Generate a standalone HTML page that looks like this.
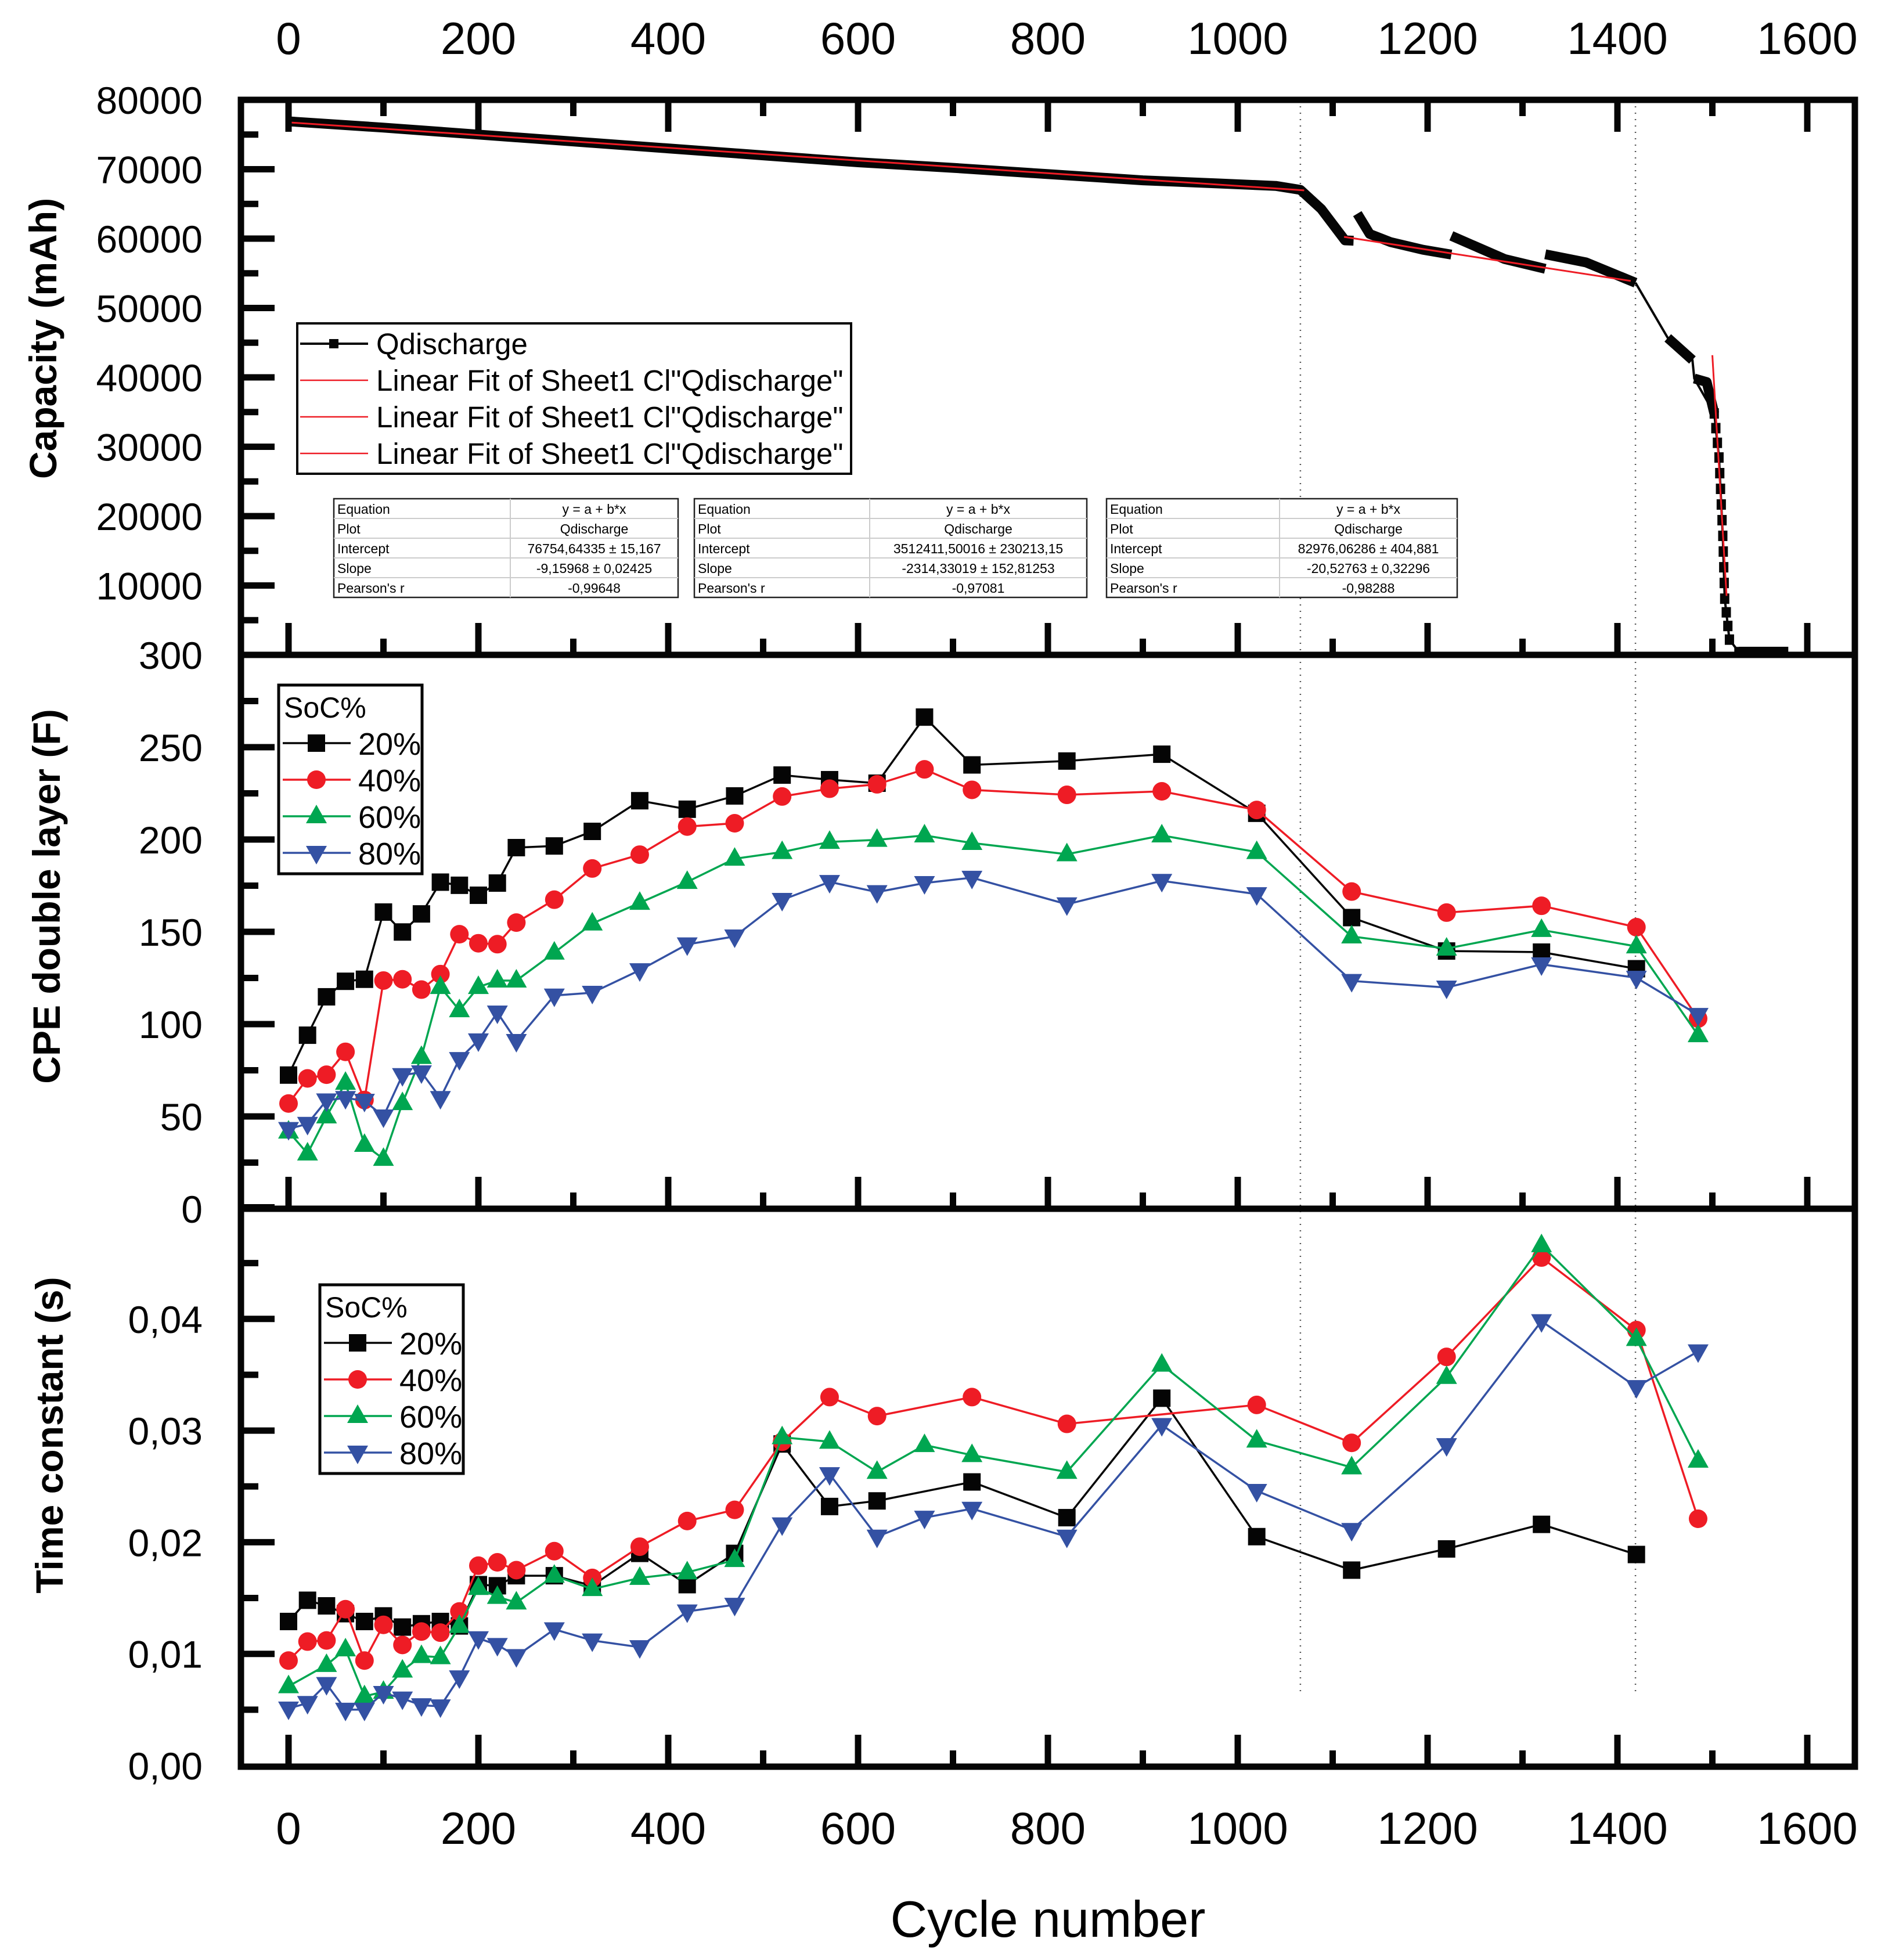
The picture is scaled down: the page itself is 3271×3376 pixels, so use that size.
<!DOCTYPE html>
<html><head><meta charset="utf-8"><style>
html,body{margin:0;padding:0;background:#fff}
svg{display:block}
text{font-family:"Liberation Sans",Arial,sans-serif}
</style></head><body>
<svg id="chart" width="3271" height="3376" viewBox="0 0 3271 3376" xmlns="http://www.w3.org/2000/svg">
<rect x="0" y="0" width="3271" height="3376" fill="#fff"/>
<g id="g"></g>
</svg>
<script>
// ---- data ----
const cycles = [0,20,40,60,80,100,120,140,160,180,200,220,240,280,320,370,420,470,520,570,620,670,720,820,920,1020,1120,1220,1320,1420,1485];
const cpe20 = [72.4,94,114.8,123.2,124.3,160.7,149.9,159.7,176.9,175.2,169.8,176.4,195.6,196.5,204.4,221,216.4,223.6,234.9,232.4,230.5,266.3,240.4,242.5,246.2,214.2,157.7,139.6,139,130,null];
const cpe40 = [57,70.6,72.6,85,58.9,123.6,124.3,118.7,127.1,148.7,143.8,143.3,155,167.4,184.3,191.8,207,208.8,223.3,227.5,229.9,238,226.9,224.2,226.1,216,171.8,160.4,164.1,152.5,103];
const cpe60 = [41.8,29.9,50,68.2,34.6,27,57.2,82.2,120.1,107.5,120.1,123.6,123.6,138.7,154.5,165.7,177,189.6,193.2,198.7,199.8,202.2,198.1,192,202.2,193.2,147.5,140.9,151,142.1,94];
const cpe80 = [43.2,46,58.7,60,58.5,50,72.4,73.9,60,81.1,91.2,106.3,90.9,115.5,117,129.2,143.2,147.5,167.3,177,171.5,176.4,179.3,164.9,177.6,170.4,123.4,119.8,132.4,125.1,105];
const tau20 = [0.0129,0.0148,0.0143,0.0136,0.0129,0.0134,0.0124,0.0127,0.0129,0.0125,0.0162,0.0161,0.0170,0.0170,0.0161,0.0190,0.0162,0.0190,0.0288,0.0232,0.0237,null,0.0254,0.0222,0.0329,0.0205,0.0175,0.0194,0.0216,0.0189,null];
const tau40 = [0.0094,0.0111,0.0112,0.0140,0.0094,0.0126,0.0108,0.0120,0.0119,0.0138,0.0179,0.0182,0.0175,0.0192,0.0168,0.0196,0.0219,0.0229,0.0290,0.0330,0.0313,null,0.0330,0.0306,null,0.0323,0.0289,0.0366,0.0455,0.0390,0.0221];
const tau60 = [0.0071,null,0.0090,0.0104,0.0062,0.0066,0.0085,0.0098,0.0097,0.0125,0.0159,0.0151,0.0146,0.0170,0.0158,0.0168,0.0173,0.0184,0.0294,0.0290,0.0263,0.0287,0.0278,0.0263,0.0359,0.0291,0.0267,0.0348,0.0466,0.0382,0.0273];
const tau80 = [0.0051,0.0056,0.0073,0.0050,0.0050,0.0065,0.0060,0.0054,0.0053,0.0079,0.0114,0.0108,0.0098,0.0122,0.0112,0.0106,0.0138,0.0144,0.0216,0.0261,0.0205,0.0222,0.0230,0.0205,0.0305,0.0246,0.0211,0.0287,0.0398,0.0339,0.0371];
const qSeg1c = [0,100,200,300,400,500,600,700,800,900,980,1040,1066,1088,1113,1122];
const qSeg1v = [76900,76000,75000,74000,73000,72000,71000,70200,69300,68400,67950,67600,67030,64270,59750,59700];
const qSeg2c = [1126,1139,1161,1195,1225];
const qSeg2v = [63600,60670,59500,58400,57700];
const qSeg3c = [1225,1281,1324];
const qSeg3v = [60400,57060,55650];
const qSeg4c = [1324,1367,1419];
const qSeg4v = [57740,56570,53640];
const qSeg5c = [1453,1479];
const qSeg5v = [45690,42500];
const qSeg6c = [1481,1494,1502];
const qSeg6v = [39830,39330,34800];
const qTailc = [1419,1453,1479,1481,1502,1507,1511,1513,1518,1528,1580];
const qTailv = [53640,45690,42500,39830,34800,28450,17160,8100,2200,400,0];
const fit1c = [0,1070]; const fitA = 76754.64335, fitB = -9.15968;
const fit2c = [1112,1414]; const fit2v = [60250,53900];
const fit3c = [1500,1515]; const fit3v = [43200,8500];
const xTicks = [0,200,400,600,800,1000,1200,1400,1600];
const capTicks = [10000,20000,30000,40000,50000,60000,70000,80000];
const cpeTicks = [0,50,100,150,200,250];
const tauTicks = [0,0.01,0.02,0.03,0.04];
const tauTickLabels = ["0,00","0,01","0,02","0,03","0,04"];

const L=415,R=3195,T1=172,B1=1128,B2=2082,B3=3043;
const X = c => 497 + c*1.635;
const Ycap = v => 1128 - v*0.01195;
const Ycpe = v => 2082 - v*3.18;
const Ytau = v => 3041 - v*19230;
const NS="http://www.w3.org/2000/svg";
const G=document.getElementById('g');
function el(tag,attrs,parent){const e=document.createElementNS(NS,tag);for(const k in attrs)e.setAttribute(k,attrs[k]);(parent||G).appendChild(e);return e;}
function txt(s,attrs,parent){const e=el('text',attrs,parent);e.textContent=s;return e;}

[1066,1419].forEach(c=>{const l=el('line',{x1:X(c),x2:X(c),y1:T1,y2:2915,stroke:'#555','stroke-width':2.5,'stroke-dasharray':'2 9'});

});

const topPanel=el('g',{});


function polyline(cs,vs,yf,attrs,parent){let d='';let pen=false;cs.forEach((c,i)=>{const v=vs[i];if(v==null){return;}d+=(pen?'L':'M')+X(c).toFixed(1)+' '+yf(v).toFixed(1)+' ';pen=true;});return el('path',Object.assign({d:d,fill:'none'},attrs),parent);}
{const p2=polyline(qTailc,qTailv,Ycap,{stroke:'#050505','stroke-width':4},topPanel);

}
[[qSeg1c,qSeg1v],[qSeg2c,qSeg2v],[qSeg3c,qSeg3v],[qSeg4c,qSeg4v],[qSeg5c,qSeg5v],[qSeg6c,qSeg6v]].forEach(s=>{const p=polyline(s[0],s[1],Ycap,{stroke:'#050505','stroke-width':17,'stroke-linejoin':'round'},topPanel);

});
for(let i=4;i<qTailc.length-1;i++){const c0=qTailc[i],c1=qTailc[i+1],v0=qTailv[i],v1=qTailv[i+1];const n=Math.max(1,Math.round(Math.abs(Ycap(v1)-Ycap(v0))/28));for(let k=0;k<n;k++){const t=k/n;const c=c0+(c1-c0)*t,v=v0+(v1-v0)*t;const r=el('rect',{x:X(c)-8,y:Ycap(v)-9,width:16,height:18,fill:'#050505'},topPanel);

}}
{const fl=el('rect',{x:X(1528),y:Ycap(0)-14,width:X(1580)-X(1528),height:14,fill:'#050505'},topPanel);

}
{const f=el('line',{x1:X(fit1c[0]),y1:Ycap(fitA+fitB*fit1c[0]),x2:X(fit1c[1]),y2:Ycap(fitA+fitB*fit1c[1]),stroke:'#ee1c25','stroke-width':3},topPanel);


const f2=polyline(fit2c,fit2v,Ycap,{stroke:'#ee1c25','stroke-width':3},topPanel);


const f3=polyline(fit3c,fit3v,Ycap,{stroke:'#ee1c25','stroke-width':3},topPanel);

}

function marker(type,cx,cy,color,parent){
 if(type==='sq') return el('rect',{x:cx-15,y:cy-15,width:30,height:30,fill:color},parent);
 if(type==='ci') return el('circle',{cx:cx,cy:cy,r:16,fill:color},parent);
 if(type==='up') return el('path',{d:`M${cx} ${cy-20}L${cx+18} ${cy+12}L${cx-18} ${cy+12}Z`,fill:color},parent);
 return el('path',{d:`M${cx} ${cy+20}L${cx+18} ${cy-12}L${cx-18} ${cy-12}Z`,fill:color},parent);
}
const colors={sq:'#050505',ci:'#ee1c25',up:'#00a650',dn:'#3451a3'};
function series(vals,yf,type,name){
 const g=el('g',{});
 
 
 const p=polyline(cycles,vals,yf,{stroke:colors[type],'stroke-width':3.5},g);
 
 
 cycles.forEach((c,i)=>{if(vals[i]==null)return;const m=marker(type,X(c),yf(vals[i]),colors[type],g);
 
 });
}
series(cpe20,Ycpe,'sq','cpe-20-series');
series(cpe40,Ycpe,'ci','cpe-40-series');
series(cpe60,Ycpe,'up','cpe-60-series');
series(cpe80,Ycpe,'dn','cpe-80-series');
series(tau20,Ytau,'sq','tau-20-series');
series(tau40,Ytau,'ci','tau-40-series');
series(tau60,Ytau,'up','tau-60-series');
series(tau80,Ytau,'dn','tau-80-series');

const frameG=el('g',{});


el('rect',{x:L,y:T1,width:R-L,height:B3-T1,fill:'none',stroke:'#050505','stroke-width':11},frameG);
el('line',{x1:L,x2:R,y1:B1,y2:B1,stroke:'#050505','stroke-width':11},frameG);
el('line',{x1:L,x2:R,y1:B2,y2:B2,stroke:'#050505','stroke-width':11},frameG);
function tick(x1,y1,x2,y2){el('line',{x1:x1,y1:y1,x2:x2,y2:y2,stroke:'#050505','stroke-width':11},frameG);}
for(let c=0;c<=1600;c+=100){const x=X(c),len=(c%200===0)?55:28;
 tick(x,T1,x,T1+len); tick(x,B1,x,B1-len);
 tick(x,B2,x,B2-len); tick(x,B3,x,B3-len);}
for(let v=5000;v<80000;v+=5000){tick(L,Ycap(v),L+(v%10000===0?58:30),Ycap(v));}
for(let v=25;v<300;v+=25){tick(L,Ycpe(v),L+(v%50===0?58:30),Ycpe(v));}
for(let v=0.005;v<0.05;v+=0.005){const m=Math.abs(v/0.01-Math.round(v/0.01))<1e-6;tick(L,Ytau(v),L+(m?58:30),Ytau(v));}

const lbl=el('g',{'font-size':66,fill:'#050505','text-anchor':'end'});


capTicks.forEach(v=>txt(String(v),{x:349,y:Ycap(v)+24},lbl));
txt('300',{x:349,y:B1+24},lbl);
cpeTicks.forEach(v=>txt(String(v),{x:349,y:Ycpe(v)+24},lbl));
tauTicks.forEach((v,i)=>txt(tauTickLabels[i],{x:349,y:Ytau(v)+24},lbl));
const xl=el('g',{'font-size':78,fill:'#050505','text-anchor':'middle'});


xTicks.forEach(c=>{txt(String(c),{x:X(c),y:93},xl);txt(String(c),{x:X(c),y:3176},xl);});

const t1=txt('Capacity (mAh)',{x:0,y:0,'font-size':66,'font-weight':'bold','text-anchor':'middle',transform:'translate(97,583) rotate(-90)'});


const t2=txt('CPE double layer (F)',{x:0,y:0,'font-size':66,'font-weight':'bold','text-anchor':'middle',transform:'translate(103,1544) rotate(-90)'});


const t3=txt('Time constant (s)',{x:0,y:0,'font-size':66,'font-weight':'bold','text-anchor':'middle',transform:'translate(108,2472) rotate(-90)'});


const t4=txt('Cycle number',{x:1805,y:3336,'font-size':88,'text-anchor':'middle'});



const lg=el('g',{});


el('rect',{x:512,y:557,width:954,height:259,fill:'#fff',stroke:'#050505','stroke-width':4},lg);
const legRows=['Qdischarge','Linear Fit of Sheet1 Cl"Qdischarge"','Linear Fit of Sheet1 Cl"Qdischarge"','Linear Fit of Sheet1 Cl"Qdischarge"'];
legRows.forEach((s,i)=>{const y=592+i*63;
 if(i===0){el('line',{x1:517,x2:634,y1:y,y2:y,stroke:'#050505','stroke-width':4},lg);el('rect',{x:567,y:y-8,width:16,height:16,fill:'#050505'},lg);}
 else el('line',{x1:517,x2:634,y1:y,y2:y,stroke:'#ee1c25','stroke-width':2.5},lg);
 const e=txt(s,{x:648,y:y+18,'font-size':51},lg);
 
 });

const tables=[[575,879,1168,'76754,64335 ± 15,167','-9,15968 ± 0,02425','-0,99648'],
 [1196,1498,1872,'3512411,50016 ± 230213,15','-2314,33019 ± 152,81253','-0,97081'],
 [1906,2204,2510,'82976,06286 ± 404,881','-20,52763 ± 0,32296','-0,98288']];
tables.forEach((t,k)=>{const g=el('g',{});
 
 
 const y0=859,rh=34;
 el('rect',{x:t[0],y:y0,width:t[2]-t[0],height:rh*5,fill:'#fff',stroke:'#222','stroke-width':2.5},g);
 for(let r=1;r<5;r++)el('line',{x1:t[0],x2:t[2],y1:y0+r*rh,y2:y0+r*rh,stroke:'#ccc','stroke-width':2},g);
 el('line',{x1:t[1],x2:t[1],y1:y0,y2:y0+5*rh,stroke:'#ccc','stroke-width':2},g);
 const left=['Equation','Plot','Intercept','Slope',"Pearson's r"];
 const right=['y = a + b*x','Qdischarge',t[3],t[4],t[5]];
 for(let r=0;r<5;r++){txt(left[r],{x:t[0]+6,y:y0+r*rh+26,'font-size':23},g);
  txt(right[r],{x:(t[1]+t[2])/2,y:y0+r*rh+26,'font-size':23,'text-anchor':'middle'},g);}
});

function socLegend(dx,dy,name){const g=el('g',{});
 
 
 el('rect',{x:480+dx,y:1180+dy,width:247,height:325,fill:'#fff',stroke:'#050505','stroke-width':5},g);
 txt('SoC%',{x:489+dx,y:1236+dy,'font-size':50},g);
 const types=['sq','ci','up','dn'],labs=['20%','40%','60%','80%'];
 types.forEach((t,i)=>{const y=1280+dy+i*63;
  el('line',{x1:487+dx,x2:604+dx,y1:y,y2:y,stroke:colors[t],'stroke-width':3.5},g);
  marker(t,545+dx,y,colors[t],g);
  const e=txt(labs[i],{x:617+dx,y:y+20,'font-size':54},g);
  
  });}
socLegend(0,0,'cpe-legend');
socLegend(71,1033,'time-constant-legend');
</script>
</body></html>
